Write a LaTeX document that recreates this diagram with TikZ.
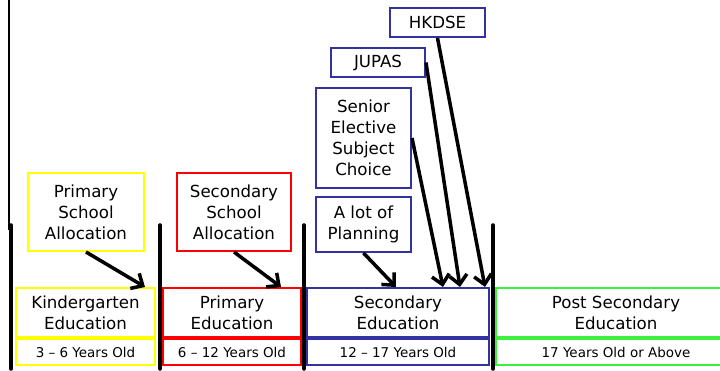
\documentclass[tikz,border=0pt]{standalone}
\usepackage{fontspec}
\setmainfont{DejaVu Sans}
\usepackage{xcolor}
\usepackage{tikz}
\usetikzlibrary{arrows.meta}
\usetikzlibrary{calc}
\usetikzlibrary{positioning}

\definecolor{kgyellow}{RGB}{255,255,0}
\definecolor{prired}{RGB}{255,0,0}
\definecolor{secblue}{RGB}{50,50,160}
\definecolor{postgreen}{RGB}{60,240,60}

\begin{document}
\begin{tikzpicture}[x=0.03cm, y=-0.03cm, >={Straight Barb[length=8pt,width=15pt]}, semithick]
	\tikzstyle{stage}=[draw, line width=1.7pt, align=center, inner sep=0pt, font=\fontsize{14.2}{18}\selectfont]
	\tikzstyle{age}=[draw, line width=1.7pt, align=center, inner sep=0pt, minimum height=26*0.03cm, font=\fontsize{11.5}{13}\selectfont]
	\tikzstyle{note}=[draw, line width=1.7pt, align=center, inner sep=0pt, font=\fontsize{14.2}{18}\selectfont]
	\tikzstyle{divider}=[line width=3pt, line cap=round]
	\tikzstyle{push}=[->, line width=3pt]
	\useasboundingbox (0,0) rectangle (720,371);
	\clip (0,0) rectangle (720,371);

	% stages
	\node[stage, kgyellow, text=black, minimum width=139*0.03cm, minimum height=49*0.03cm] (kg) at (85.5,312.5) {Kindergarten\\Education};
	\node[age, kgyellow, text=black, minimum width=139*0.03cm] (kgage) at (85.5,352) {3 -- 6 Years Old};
	\node[stage, prired, text=black, minimum width=138*0.03cm, minimum height=49*0.03cm] (pri) at (232,312.5) {Primary\\Education};
	\node[age, prired, text=black, minimum width=138*0.03cm] (priage) at (232,352) {6 -- 12 Years Old};
	\node[stage, secblue, text=black, minimum width=182*0.03cm, minimum height=49*0.03cm] (sec) at (398,312.5) {Secondary\\Education};
	\node[age, secblue, text=black, minimum width=182*0.03cm] (secage) at (398,352) {12 -- 17 Years Old};
	\node[stage, postgreen, text=black, minimum width=240*0.03cm, minimum height=49*0.03cm] (post) at (616,312.5) {Post Secondary\\Education};
	\node[age, postgreen, text=black, minimum width=240*0.03cm] (postage) at (616,352) {17 Years Old or Above};

	% notes
	\node[note, kgyellow, text=black, minimum width=116*0.03cm, minimum height=78*0.03cm] (psa) at (86,212) {Primary\\School\\Allocation};
	\node[note, prired, text=black, minimum width=114*0.03cm, minimum height=78*0.03cm] (ssa) at (234,212) {Secondary\\School\\Allocation};
	\node[note, secblue, text=black, minimum width=95*0.03cm, minimum height=55*0.03cm] (plan) at (363.5,224.5) {A lot of\\Planning};
	\node[note, secblue, text=black, minimum width=95*0.03cm, minimum height=100*0.03cm] (senior) at (363.5,138) {Senior\\Elective\\Subject\\Choice};
	\node[note, secblue, text=black, minimum width=94*0.03cm, minimum height=29*0.03cm] (jupas) at (378,62.5) {JUPAS};
	\node[note, secblue, text=black, minimum width=95*0.03cm, minimum height=29*0.03cm] (hkdse) at (437.5,22.5) {HKDSE};

	% arrow tips
	\coordinate (t1) at (145,287);
	\coordinate (t2) at (281,287);
	\coordinate (t3) at (396,287);
	\coordinate (t4) at (443,287);
	\coordinate (t5) at (460,287);
	\coordinate (t6) at (485,287);

	\draw[push] (psa.south) -- (t1);
	\draw[push] (ssa.south) -- (t2);
	\draw[push] (plan.south) -- (t3);
	\draw[push] (senior.east) -- (t4);
	\draw[push] (jupas.east) -- (t5);
	\draw[push] (hkdse.south) -- (t6);

	% dividers
	\draw[line width=2.2pt] (9,-2) -- (9,230);
	\draw[divider] (11,225) -- (11,369);
	\draw[divider] (160,225) -- (160,369);
	\draw[divider] (304,225) -- (304,369);
	\draw[divider] (493,225) -- (493,369);
\end{tikzpicture}
\end{document}
